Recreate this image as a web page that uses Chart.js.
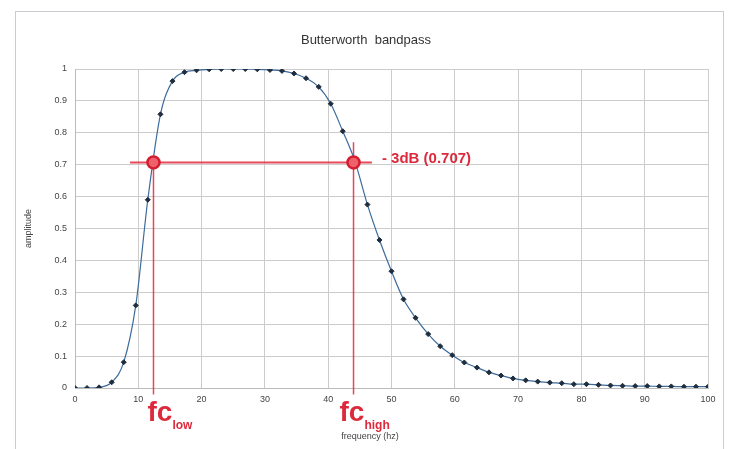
<!DOCTYPE html>
<html>
<head>
<meta charset="utf-8">
<script src="https://cdn.jsdelivr.net/npm/chart.js@4.4.1/dist/chart.umd.min.js"></script>
<style>
  html, body { margin: 0; padding: 0; background: #ffffff; }
  canvas { display: block; }
</style>
</head>
<body>
<canvas id="chart" width="732" height="449"></canvas>
<script>
// Sampled frequency points (hz)
const frequency = [
  0, 1.9, 3.8, 5.8, 7.7, 9.6, 11.5, 13.5, 15.4, 17.3,
  19.2, 21.2, 23.1, 25.0, 26.9, 28.8, 30.8, 32.7, 34.6, 36.5,
  38.5, 40.4, 42.3, 44.2, 46.2, 48.1, 50.0, 51.9, 53.8, 55.8,
  57.7, 59.6, 61.5, 63.5, 65.4, 67.3, 69.2, 71.2, 73.1, 75.0,
  76.9, 78.8, 80.8, 82.7, 84.6, 86.5, 88.5, 90.4, 92.3, 94.2,
  96.2, 98.1, 100
];
// Filter response amplitude at each frequency
const amplitude = [
  0.000, 0.000, 0.002, 0.018, 0.081, 0.259, 0.590, 0.858, 0.962, 0.990,
  0.996, 0.999, 1.000, 1.000, 1.000, 0.999, 0.997, 0.994, 0.986, 0.971,
  0.944, 0.891, 0.805, 0.712, 0.575, 0.464, 0.366, 0.278, 0.220, 0.169,
  0.131, 0.103, 0.080, 0.064, 0.049, 0.039, 0.030, 0.024, 0.020, 0.017,
  0.015, 0.012, 0.012, 0.010, 0.008, 0.007, 0.006, 0.006, 0.005, 0.005,
  0.004, 0.004, 0.004
];
const xTickValues = [0, 10, 20, 30, 40, 50, 60, 70, 80, 90, 100];
const yTickLabels = ['0', '0.1', '0.2', '0.3', '0.4', '0.5', '0.6', '0.7', '0.8', '0.9', '1'];

// -3 dB cutoff
const cutoffLevel = 0.707;
const fcLow = 12.4;
const fcHigh = 44.0;
const cutoffLineFrom = 8.7;
const cutoffLineTo = 46.9;
const cutoffLabel = '- 3dB (0.707)';

const chartTitle = 'Butterworth  bandpass';
const xTitle = 'frequency (hz)';
const yTitle = 'amplitude';

const FONT = '"Liberation Sans", Arial, sans-serif';
const RED = '#dc2a3c';

const curve = frequency.map((f, i) => ({ x: f, y: amplitude[i] }));

const decorations = {
  id: 'decorations',
  beforeDraw(chart) {
    const { ctx, width, height } = chart;
    ctx.save();
    ctx.fillStyle = '#ffffff';
    ctx.fillRect(0, 0, width, height);
    ctx.strokeStyle = '#c9cdd1';
    ctx.lineWidth = 1;
    ctx.strokeRect(15.5, 11.5, 708, height + 10);
    ctx.restore();
  },
  afterDraw(chart) {
    const { ctx, chartArea, scales: { x, y } } = chart;
    ctx.save();
    ctx.textAlign = 'center';
    ctx.textBaseline = 'middle';

    ctx.fillStyle = '#333333';
    ctx.font = '13px ' + FONT;
    ctx.fillText(chartTitle, 366, 40);

    ctx.fillStyle = '#444444';
    ctx.font = '9px ' + FONT;
    ctx.fillText(xTitle, 370, 437);

    ctx.save();
    ctx.translate(29, (chartArea.top + chartArea.bottom) / 2);
    ctx.rotate(-Math.PI / 2);
    ctx.fillText(yTitle, 0, 0);
    ctx.restore();

    // cutoff caption
    ctx.fillStyle = RED;
    ctx.textAlign = 'left';
    ctx.font = 'bold 15px ' + FONT;
    ctx.fillText(cutoffLabel, x.getPixelForValue(cutoffLineTo) + 10, y.getPixelForValue(cutoffLevel) - 4);

    // fc labels under the axis
    ctx.textBaseline = 'alphabetic';
    const fcLabel = (f, shift, sub) => {
      const px = x.getPixelForValue(f) - shift;
      ctx.font = 'bold 28px ' + FONT;
      ctx.fillText('fc', px, 421);
      const w = ctx.measureText('fc').width;
      ctx.font = 'bold 12px ' + FONT;
      ctx.fillText(sub, px + w, 429);
    };
    fcLabel(fcLow, 6, 'low');
    fcLabel(fcHigh, 14, 'high');
    ctx.restore();
  }
};

new Chart(document.getElementById('chart'), {
  type: 'line',
  data: {
    datasets: [
      {
        data: [{ x: cutoffLineFrom, y: cutoffLevel }, { x: cutoffLineTo, y: cutoffLevel }],
        borderColor: 'rgba(226,40,60,0.85)',
        borderWidth: 2,
        pointRadius: 0,
        order: 3
      },
      {
        data: [{ x: fcLow, y: cutoffLevel }, { x: fcLow, y: -0.02 }],
        borderColor: 'rgba(226,40,60,0.85)',
        borderWidth: 1.5,
        pointRadius: 0,
        clip: false,
        order: 3
      },
      {
        data: [{ x: fcHigh, y: 0.77 }, { x: fcHigh, y: -0.02 }],
        borderColor: 'rgba(226,40,60,0.85)',
        borderWidth: 1.5,
        pointRadius: 0,
        clip: false,
        order: 3
      },
      {
        data: curve,
        borderColor: '#3c6b9c',
        borderWidth: 1.2,
        cubicInterpolationMode: 'monotone',
        pointStyle: 'rectRot',
        pointRadius: 2.5,
        pointBackgroundColor: '#1f2d3d',
        pointBorderColor: '#1f2d3d',
        pointBorderWidth: 1,
        order: 2
      },
      {
        data: [{ x: fcLow, y: cutoffLevel }, { x: fcHigh, y: cutoffLevel }],
        showLine: false,
        pointRadius: 6,
        pointBackgroundColor: '#f0606a',
        pointBorderColor: '#d21e30',
        pointBorderWidth: 2.5,
        order: 1
      }
    ]
  },
  options: {
    responsive: false,
    animation: false,
    events: [],
    layout: { padding: { left: 0, right: 24, top: 69, bottom: 0 } },
    plugins: {
      legend: { display: false },
      tooltip: { enabled: false },
      title: { display: false }
    },
    scales: {
      x: {
        type: 'linear',
        min: 0,
        max: 100,
        afterBuildTicks: (scale) => { scale.ticks = xTickValues.map(v => ({ value: v })); },
        afterFit: (scale) => { scale.height = 61; },
        ticks: {
          color: '#444444',
          font: { family: FONT, size: 9 },
          padding: 6,
          maxRotation: 0,
          callback: (v) => String(v)
        },
        grid: { color: '#cccccc', lineWidth: 1, drawTicks: false },
        border: { color: '#bbbbbb' }
      },
      y: {
        type: 'linear',
        min: 0,
        max: 1,
        afterBuildTicks: (scale) => { scale.ticks = yTickLabels.map(t => ({ value: parseFloat(t) })); },
        afterFit: (scale) => { scale.width = 75; },
        ticks: {
          color: '#444444',
          font: { family: FONT, size: 9 },
          padding: 8,
          callback: (v, i) => yTickLabels[i]
        },
        grid: { color: '#cccccc', lineWidth: 1, drawTicks: false },
        border: { color: '#bbbbbb' }
      }
    }
  },
  plugins: [decorations]
});
</script>
</body>
</html>
